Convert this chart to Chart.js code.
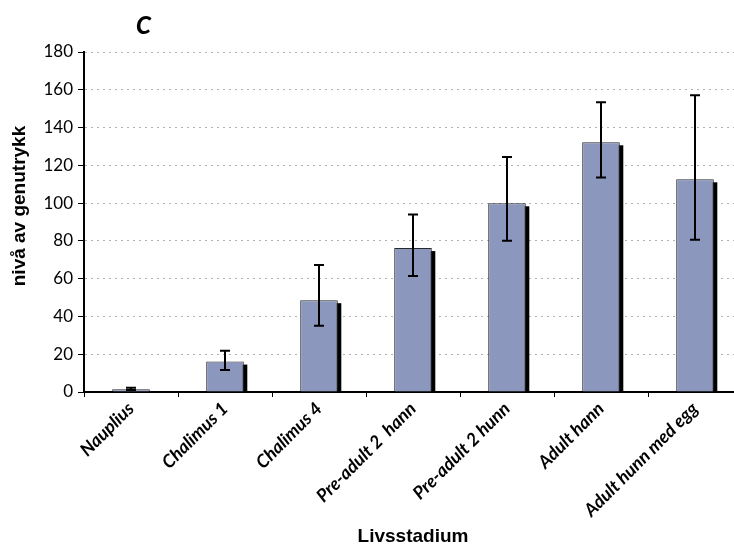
<!DOCTYPE html>
<html>
<head>
<meta charset="utf-8">
<script src="https://cdn.jsdelivr.net/npm/chart.js@4"></script>
<style>
html,body{margin:0;padding:0;background:#fff;overflow:hidden;width:734px;height:545px}
canvas{display:block}
</style>
</head>
<body>
<canvas id="c" width="744" height="545"></canvas>
<script>
const categories = ['Nauplius', 'Chalimus 1', 'Chalimus 4', 'Pre-adult 2  hann', 'Pre-adult 2 hunn', 'Adult hann', 'Adult hunn med egg'];
const values  = [1.5, 16.1, 48.6, 76.2, 99.9, 132.2, 112.6];
const errLow  = [1.0, 11.6, 35.1, 61.4, 80.1, 113.5, 80.6];
const errHigh = [2.3, 21.9, 67.2, 94.0, 124.4, 153.4, 157.1];
const yTicks = [0, 20, 40, 60, 80, 100, 120, 140, 160, 180];
const panelLetter = 'C';
const yTitle = 'nivå av genutrykk';
const xTitle = 'Livsstadium';

const shadowPlugin = {
  id: 'barShadow',
  beforeDatasetsDraw(chart) {
    const ctx = chart.ctx;
    const meta = chart.getDatasetMeta(0);
    ctx.save();
    ctx.fillStyle = '#000';
    meta.data.forEach(b => {
      const p = b.getProps(['x', 'y', 'base', 'width'], true);
      const l = p.x - p.width / 2 + 3.5;
      const top = p.y + 3;
      if (p.base > top) ctx.fillRect(l, top, p.width, p.base - top);
    });
    ctx.restore();
  }
};

const errorPlugin = {
  id: 'errorBars',
  afterDatasetsDraw(chart) {
    const ctx = chart.ctx;
    const ys = chart.scales.y;
    const meta = chart.getDatasetMeta(0);
    ctx.save();
    ctx.strokeStyle = '#000';
    ctx.lineWidth = 2;
    meta.data.forEach((b, i) => {
      const x = Math.round(b.x);
      const yt = ys.getPixelForValue(errHigh[i]);
      const yb = ys.getPixelForValue(errLow[i]);
      ctx.beginPath();
      ctx.moveTo(x, yt); ctx.lineTo(x, yb);
      ctx.moveTo(x - 5, yt); ctx.lineTo(x + 5, yt);
      ctx.moveTo(x - 5, yb); ctx.lineTo(x + 5, yb);
      ctx.stroke();
    });
    ctx.restore();
  }
};

const textPlugin = {
  id: 'extraText',
  afterDraw(chart) {
    const ctx = chart.ctx;
    ctx.save();
    ctx.fillStyle = '#000';
    ctx.textAlign = 'center';
    ctx.textBaseline = 'middle';
    ctx.font = 'italic 900 24px Lato';
    ctx.fillText(panelLetter, 143.5, 26);
    ctx.translate(20, 206);
    ctx.rotate(-Math.PI / 2);
    ctx.font = 'bold 19px "Liberation Sans", Arial, sans-serif';
    ctx.fillText(yTitle, 0, 0);
    ctx.restore();
  }
};

new Chart(document.getElementById('c'), {
  type: 'bar',
  data: {
    labels: categories,
    datasets: [{
      data: values,
      backgroundColor: '#8b97bd',
      borderColor: '#2a2a2a',
      borderWidth: 1,
      barPercentage: 0.4,
      categoryPercentage: 1.0
    }]
  },
  options: {
    responsive: false,
    animation: false,
    devicePixelRatio: 1,
    layout: { padding: { top: 52, left: 0, right: 2, bottom: 0 } },
    plugins: { legend: { display: false }, tooltip: { enabled: false }, title: { display: false } },
    scales: {
      x: {
        offset: true,
        afterFit(scale) { scale.height = 153; },
        grid: { display: true, drawOnChartArea: false, drawTicks: true, tickLength: 5, tickColor: '#000', tickWidth: 1, offset: true },
        border: { display: true, color: '#000', width: 2 },
        ticks: {
          autoSkip: false, maxRotation: 45, minRotation: 45, padding: 1, color: '#000',
          font: { family: 'Lato', size: 18, weight: 'bold', style: 'italic' }
        },
        title: {
          display: true, text: xTitle, color: '#000',
          font: { family: '"Liberation Sans", Arial, sans-serif', size: 19, weight: 'bold', lineHeight: 1 },
          padding: { top: 0, bottom: -1 }
        }
      },
      y: {
        min: 0, max: 180,
        afterFit(scale) { scale.width = 84; },
        afterBuildTicks(scale) { scale.ticks = yTicks.map(v => ({ value: v })); },
        grid: {
          color: c => (c.tick && c.tick.value === 0) ? 'rgba(0,0,0,0)' : '#b0b0b0',
          lineWidth: 1, drawTicks: true, tickLength: 6, tickColor: '#000', tickWidth: 1, tickBorderDash: []
        },
        border: { display: true, color: '#000', width: 2, dash: [2, 4] },
        ticks: { padding: 5, color: '#000', font: { family: 'Lato', size: 17 } }
      }
    }
  },
  plugins: [shadowPlugin, errorPlugin, textPlugin]
});
</script>
</body>
</html>
